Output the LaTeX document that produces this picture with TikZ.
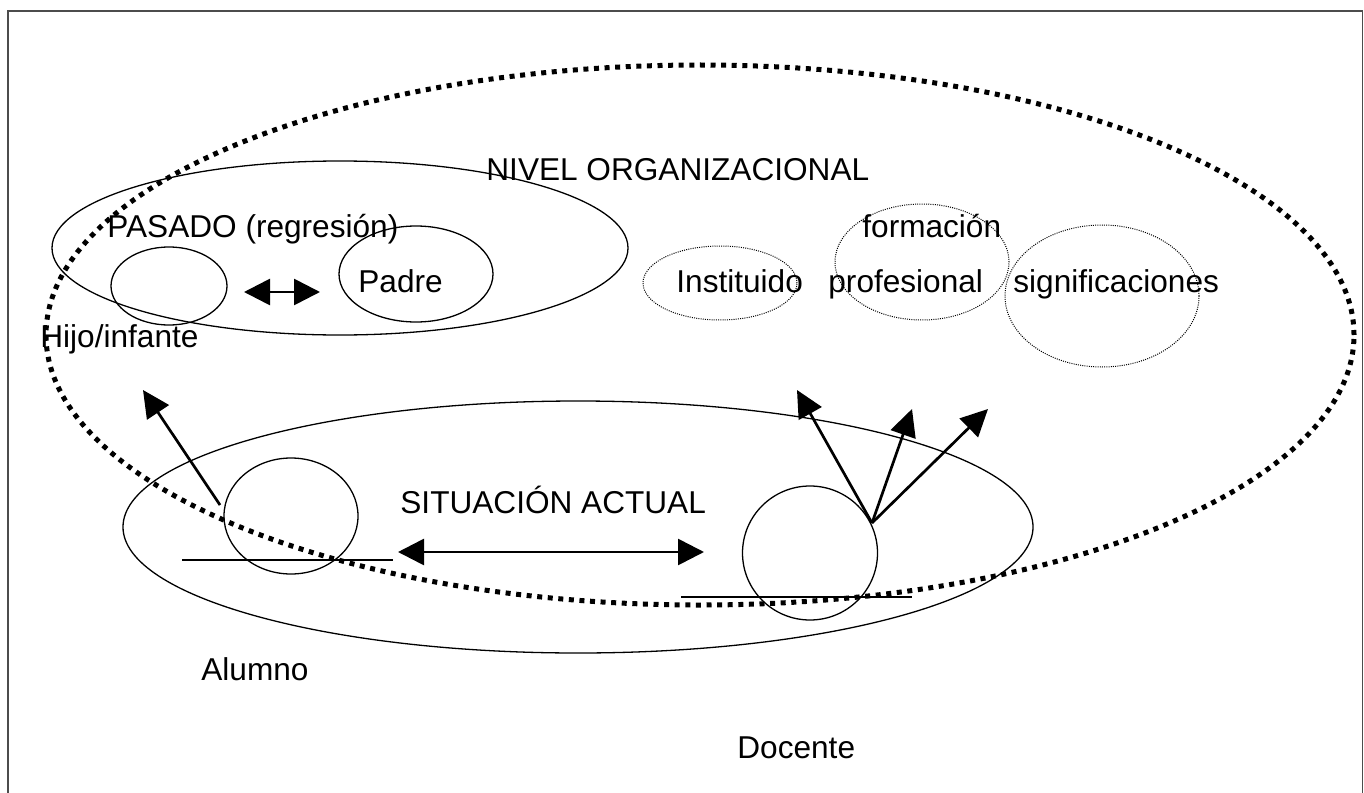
\documentclass[tikz,border=0pt]{standalone}
\usepackage{fontspec}
\setmainfont{Liberation Sans}
\usetikzlibrary{arrows.meta,shapes.geometric}
\begin{document}
\begin{tikzpicture}[x=0.5pt,y=-0.5pt,
  oval/.style={draw, ellipse, inner sep=0pt, outer sep=0pt, line width=0.65pt},
  dotoval/.style={draw, ellipse, inner sep=0pt, outer sep=0pt, line width=0.5pt, dash pattern=on 0.5pt off 0.6pt},
  bigdot/.style={draw, ellipse, inner sep=0pt, outer sep=0pt, line width=2.5pt, dash pattern=on 2.5pt off 2.8pt},
  lbl/.style={font=\fontsize{15.8pt}{18pt}\selectfont, inner sep=0pt, anchor=base west},
  thinline/.style={line width=0.65pt},
  dbl/.style={line width=1.35pt, {Triangle[length=13pt,width=13pt]}-{Triangle[length=13pt,width=13pt]}},
  sgl/.style={line width=1.35pt, -{Triangle[length=13.5pt,width=13pt]}}
]
\useasboundingbox (0,0) rectangle (1364,792);
\clip (0,0) rectangle (1364,792);
% frame
\draw[line width=0.75pt, draw=black!70] (8,11) rectangle (1362.5,800);

% ovals
\node[oval, minimum width=288pt, minimum height=87pt] (pasado) at (340,248) {};
\node[oval, minimum width=58pt, minimum height=39pt] (hijo) at (169,286) {};
\node[oval, minimum width=77pt, minimum height=48pt] (padre) at (416,274) {};
\node[dotoval, minimum width=77pt, minimum height=37pt] (inst) at (720,283) {};
\node[dotoval, minimum width=87pt, minimum height=58pt] (form) at (922,262) {};
\node[dotoval, minimum width=97pt, minimum height=71pt] (sign) at (1102,296) {};
\node[oval, minimum width=455pt, minimum height=126pt] (situ) at (578,527) {};
\node[oval, minimum width=67pt, minimum height=58pt] (alumno) at (291,516) {};
\node[oval, minimum width=67.5pt, minimum height=67pt] (docente) at (810,553) {};
\node[bigdot, minimum width=654pt, minimum height=270pt] (org) at (700,335) {};

% texts
\node[lbl] (tnivel) at (486,180) {NIVEL ORGANIZACIONAL};
\node[lbl] (tpasado) at (107,237) {PASADO (regresión)};
\node[lbl] (tpadre) at (358,292) {Padre};
\node[lbl] (thijo) at (40,347) {Hijo/infante};
\node[lbl] (tinst) at (676,292) {Instituido};
\node[lbl] (tform) at (862,237) {formación};
\node[lbl] (tprof) at (828,292) {profesional};
\node[lbl] (tsign) at (1013,292) {significaciones};
\node[lbl] (tsitu) at (400,513) {SITUACIÓN ACTUAL};
\node[lbl] (talumno) at (201,680) {Alumno};
\node[lbl] (tdocente) at (737,758) {Docente};

% coordinates
\coordinate (la1) at (182,560);
\coordinate (la2) at (393,560);
\coordinate (ld1) at (681,597);
\coordinate (ld2) at (912,597);
\coordinate (hp1) at (244,292);
\coordinate (hp2) at (320,292);
\coordinate (sa1) at (398,552);
\coordinate (sa2) at (704,552);
\coordinate (ah0) at (220,505);
\coordinate (ah1) at (143,390);
\coordinate (d0) at (872,523);
\coordinate (d1) at (797,390);
\coordinate (d2) at (912,409);
\coordinate (d3) at (988,409);

% lines and arrows
\draw[thinline] (la1) -- (la2);
\draw[thinline] (ld1) -- (ld2);
\draw[dbl] (hp1) -- (hp2);
\draw[dbl] (sa1) -- (sa2);
\draw[sgl] (ah0) -- (ah1);
\draw[sgl] (d0) -- (d1);
\draw[sgl] (d0) -- (d2);
\draw[sgl] (d0) -- (d3);
\end{tikzpicture}
\end{document}
